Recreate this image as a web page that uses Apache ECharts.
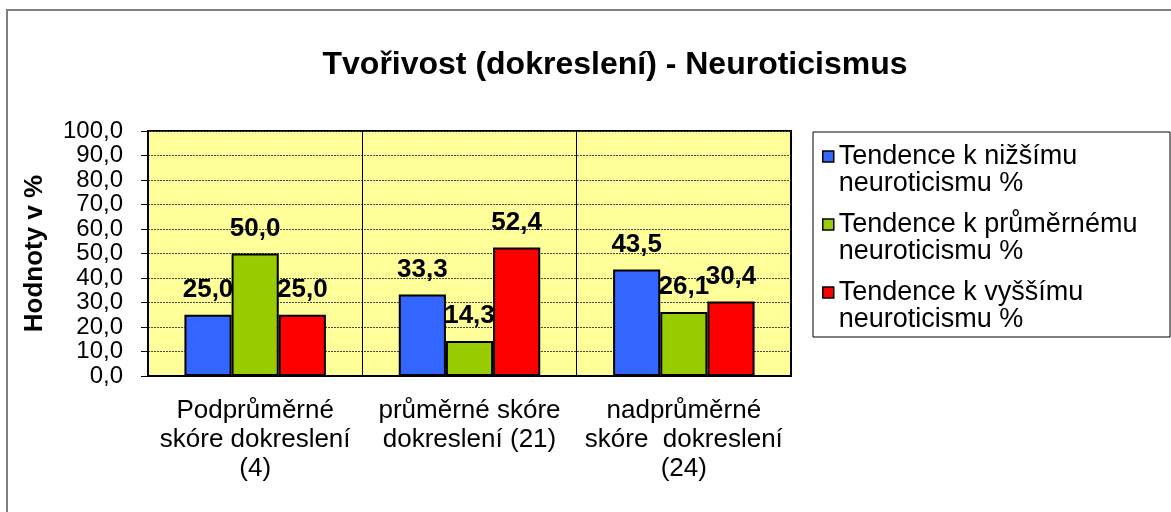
<!DOCTYPE html>
<html>
<head>
    <meta charset="UTF-8">
    <title>Tvořivost (dokreslení) - Neuroticismus</title>
    <style>
        html, body { margin: 0; padding: 0; background: #fff; }
        #chart { width: 1171px; height: 512px; }
    </style>
</head>
<body>
<div id="chart"></div>
<script src="https://cdn.jsdelivr.net/npm/echarts@6/dist/echarts.min.js"></script>
<script>
    // data
    var categories = ['Podprůměrné\nskóre dokreslení\n(4)', 'průměrné skóre\ndokreslení (21)', 'nadprůměrné\nskóre  dokreslení\n(24)'];
    var seriesNames = ['Tendence k nižšímu\nneuroticismu %', 'Tendence k průměrnému\nneuroticismu %', 'Tendence k vyššímu\nneuroticismu %'];
    var lowerVals = [25.0, 33.3, 43.5];
    var averageVals = [50.0, 14.3, 26.1];
    var higherVals = [25.0, 52.4, 30.4];
    var colors = ['#3366FF', '#99CC00', '#FF0000'];

    var font = '"Liberation Sans", Arial, sans-serif';
    function comma(v) { return Number(v).toFixed(1).replace('.', ','); }

    var chart = echarts.init(document.getElementById('chart'));

    var values = [lowerVals, averageVals, higherVals];
    var series = [];
    for (var i = 0; i < values.length; i++) {
        series.push({
            name: seriesNames[i],
            type: 'bar',
            data: values[i],
            barGap: '0%',
            barCategoryGap: '34%',
            itemStyle: { color: colors[i], borderColor: '#000', borderWidth: 2 },
            label: {
                show: true,
                position: 'top',
                distance: 12,
                color: '#000',
                fontFamily: font,
                fontWeight: 'bold',
                fontSize: 26,
                formatter: function (p) { return comma(p.value); }
            }
        });
    }

    var option = {
        backgroundColor: '#fff',
        animation: false,
        title: {
            text: 'Tvořivost (dokreslení) - Neuroticismus',
            left: 610,
            top: 44,
            textAlign: 'center',
            textStyle: { fontFamily: font, fontWeight: 'bold', fontSize: 32, color: '#000' }
        },
        legend: {
            orient: 'vertical',
            left: 817,
            top: 111,
            itemWidth: 11,
            itemHeight: 11,
            itemGap: -13,
            icon: 'rect',
            itemStyle: { borderColor: '#000', borderWidth: 1.5 },
            formatter: function (n) { return '\n' + n; },
            textStyle: { fontFamily: font, fontSize: 27, lineHeight: 27, color: '#000' }
        },
        grid: {
            left: 148,
            top: 131,
            width: 643,
            height: 245,
            show: true,
            backgroundColor: '#FFFF99',
            borderColor: '#000',
            borderWidth: 2
        },
        xAxis: {
            type: 'category',
            data: categories,
            axisLine: { lineStyle: { color: '#000', width: 2 } },
            axisTick: { length: 8, lineStyle: { color: '#000' } },
            splitLine: { show: true, lineStyle: { color: '#000', width: 1 } },
            axisLabel: {
                margin: 20,
                interval: 0,
                color: '#000',
                fontFamily: font,
                fontSize: 26,
                lineHeight: 29
            }
        },
        yAxis: {
            type: 'value',
            min: 0,
            max: 100,
            interval: 10,
            name: 'Hodnoty v %',
            nameLocation: 'middle',
            nameGap: 100,
            nameTextStyle: { fontFamily: font, fontWeight: 'bold', fontSize: 26, color: '#000' },
            axisLine: { show: true, lineStyle: { color: '#000', width: 2 } },
            axisTick: { show: true, length: 7, lineStyle: { color: '#000' } },
            splitLine: { lineStyle: { color: '#444', width: 1, type: [2, 1] } },
            axisLabel: {
                margin: 25,
                color: '#000',
                fontFamily: font,
                fontSize: 24,
                lineHeight: 22,
                showMinLabel: true,
                showMaxLabel: true,
                formatter: comma
            }
        },
        graphic: [
            { type: 'rect', shape: { x: 7, y: 10, width: 1200, height: 600 }, style: { fill: null, stroke: '#7f7f7f', lineWidth: 2 }, silent: true },
            { type: 'rect', shape: { x: 813, y: 132, width: 357, height: 205 }, style: { fill: null, stroke: '#000', lineWidth: 1 }, silent: true }
        ],
        series: series
    };

    chart.setOption(option);
</script>
</body>
</html>
